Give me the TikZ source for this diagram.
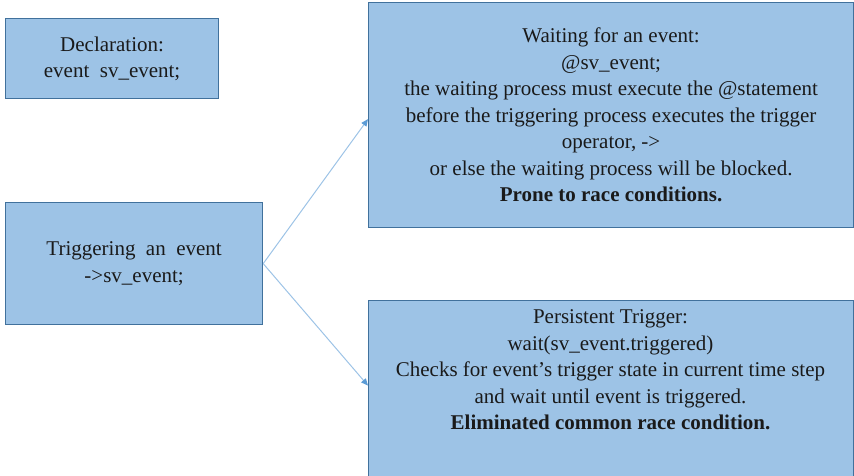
\documentclass[tikz,border=0pt]{standalone}
\usepackage{fontspec}
\setmainfont{Liberation Serif}
\usetikzlibrary{arrows.meta}
\definecolor{boxfill}{HTML}{9DC3E6}
\definecolor{boxline}{HTML}{41719C}
\definecolor{arrline}{HTML}{9DC3E6}
\definecolor{arrtip}{HTML}{5B9BD5}
\definecolor{txtcol}{HTML}{1A1A1A}
\begin{document}
\begin{tikzpicture}[x=1pt,y=-1pt,
  box/.style={draw=boxline, line width=1.2pt, fill=boxfill, inner sep=0pt, anchor=north west,
              text=txtcol, align=center, font=\fontsize{21}{26.5}\selectfont},
  plaintext/.style={text=txtcol, align=center, inner sep=0pt, font=\fontsize{21}{26.5}\selectfont},
  conn/.style={draw=arrline, line width=1pt, -{Triangle[length=7pt,width=6pt,fill=arrtip,color=arrtip]}}]
\useasboundingbox (0,0) rectangle (854,475);
\clip (0,0) rectangle (854,475);

\node[box, minimum width=213pt, minimum height=80pt] (decl) at (5,18)
  {Declaration:\\event\ \ sv\_event;};

\node[box, minimum width=257pt, minimum height=122pt] (trig) at (5,202)
  {Triggering\ \ an\ \ event\\->sv\_event;};

\node[box, minimum width=485pt, minimum height=225pt] (wait) at (368,2)
  {Waiting for an event:\\
   @sv\_event;\\
   the waiting process must execute the @statement\\
   before the triggering process executes the trigger\\
   operator, ->\\
   or else the waiting process will be blocked.\\
   \textbf{Prone to race conditions.}};

\node[box, minimum width=485pt, minimum height=200pt] (persist) at (368,300) {};
\node[plaintext] (perstext) at (610.5,370)
  {Persistent Trigger:\\
   wait(sv\_event.triggered)\\
   Checks for event’s trigger state in current time step\\
   and wait until event is triggered.\\
   \textbf{Eliminated common race condition.}};

\coordinate (waitin) at ([yshift=-4pt]wait.west);
\coordinate (persin) at ([yshift=15pt]persist.west);
\draw[conn] (trig.east) -- (waitin);
\draw[conn] (trig.east) -- (persin);
\end{tikzpicture}
\end{document}
